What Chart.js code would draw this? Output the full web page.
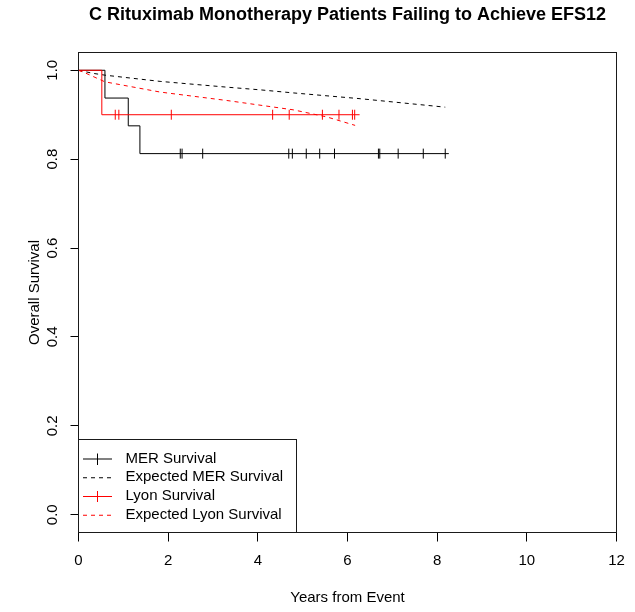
<!DOCTYPE html>
<html>
<head>
<meta charset="utf-8">
<script src="https://cdn.jsdelivr.net/npm/chart.js@4/dist/chart.umd.min.js"></script>
<style>
html, body { margin: 0; padding: 0; background: #ffffff; }
#wrap { width: 635px; height: 612px; }
</style>
</head>
<body>
<div id="wrap"><canvas id="c" width="635" height="612"></canvas></div>
<script>
// ---------------- data ----------------
const titleText = 'C Rituximab Monotherapy Patients Failing to Achieve EFS12';
const xTitle = 'Years from Event';
const yTitle = 'Overall Survival';
const xTicks = [0, 2, 4, 6, 8, 10, 12];
const yTicks = [0, 0.2, 0.4, 0.6, 0.8, 1.0];
const seriesNames = ['MER Survival', 'Expected MER Survival', 'Lyon Survival', 'Expected Lyon Survival'];

// Kaplan-Meier MER (steps)
const merTimes = [0, 0.59, 1.11, 1.37, 8.26];
const merSurv  = [1, 0.9375, 0.875, 0.8125, 0.8125];
const merCensorTimes = [2.27, 2.31, 2.77, 4.69, 4.77, 5.08, 5.38, 5.71, 6.69, 6.72, 7.13, 7.69, 8.18];

// Kaplan-Meier Lyon (steps)
const lyonTimes = [0, 0.52, 6.27];
const lyonSurv  = [1, 0.9, 0.9];
const lyonCensorTimes = [0.82, 0.90, 2.07, 4.33, 4.70, 5.44, 5.81, 6.11, 6.16];

// Expected survival curves
const expMerTimes = [0, 0.33, 0.59, 1.82, 3.31, 4.05, 4.80, 6.29, 8.18];
const expMerSurv  = [1, 0.993, 0.989, 0.975, 0.962, 0.956, 0.949, 0.936, 0.917];
const expLyonTimes = [0, 0.15, 0.59, 1.82, 3.31, 4.79, 5.54, 6.17];
const expLyonSurv  = [1, 0.994, 0.974, 0.951, 0.932, 0.911, 0.895, 0.876];

// ---------------- helpers ----------------
const FONT = '"Liberation Sans", Arial, Helvetica, sans-serif';
const BLACK = '#000000';
const RED = '#ff0000';

function pts(times, vals) { return times.map((t, i) => ({ x: t, y: vals[i] })); }
function survAt(times, vals, t) {
  let v = vals[0];
  for (let i = 0; i < times.length; i++) { if (times[i] <= t) v = vals[i]; }
  return v;
}
function censorPts(ct, times, vals) { return ct.map(t => ({ x: t, y: survAt(times, vals, t) })); }

function legendMark(color, dashed, cross) {
  const c = document.createElement('canvas');
  c.width = 35; c.height = 12;
  const g = c.getContext('2d');
  g.strokeStyle = color; g.lineWidth = 1;
  if (dashed) g.setLineDash([4, 4]);
  g.beginPath(); g.moveTo(0, 6.5); g.lineTo(29, 6.5); g.stroke();
  if (cross) {
    g.setLineDash([]);
    g.beginPath(); g.moveTo(14.5, 1); g.lineTo(14.5, 12); g.stroke();
  }
  return c;
}
const legendMarks = [
  legendMark(BLACK, false, true),
  legendMark(BLACK, true, false),
  legendMark(RED, false, true),
  legendMark(RED, true, false)
];

const lineBase = { type: 'line', fill: false, pointRadius: 0, pointHoverRadius: 0, borderWidth: 1, tension: 0 };
const censorBase = { type: 'line', showLine: false, pointStyle: 'line', rotation: 90, pointRadius: 5, pointHoverRadius: 5, borderWidth: 1 };

// lower "order" is drawn on top (red series over black, as in the reference)
const datasets = [
  Object.assign({}, lineBase, { label: seriesNames[0], data: pts(merTimes, merSurv), borderColor: BLACK, stepped: 'before', order: 2 }),
  Object.assign({}, lineBase, { label: seriesNames[1], data: pts(expMerTimes, expMerSurv), borderColor: BLACK, borderDash: [4, 4], order: 2 }),
  Object.assign({}, lineBase, { label: seriesNames[2], data: pts(lyonTimes, lyonSurv), borderColor: RED, stepped: 'before', order: 1 }),
  Object.assign({}, lineBase, { label: seriesNames[3], data: pts(expLyonTimes, expLyonSurv), borderColor: RED, borderDash: [4, 4], order: 1 }),
  Object.assign({}, censorBase, { label: 'MER censored', data: censorPts(merCensorTimes, merTimes, merSurv), borderColor: BLACK, backgroundColor: BLACK, order: 2 }),
  Object.assign({}, censorBase, { label: 'Lyon censored', data: censorPts(lyonCensorTimes, lyonTimes, lyonSurv), borderColor: RED, backgroundColor: RED, order: 1 })
];

const framePlugin = {
  id: 'frame',
  afterLayout(chart) {
    const lg = chart.legend, ca = chart.chartArea;
    lg.left = ca.left + 0.75;
    lg.bottom = ca.bottom - 6.5;
  },
  afterDraw(chart) {
    const ctx = chart.ctx, ca = chart.chartArea, lg = chart.legend;
    ctx.save();
    ctx.strokeStyle = '#1a1a1a';
    ctx.lineWidth = 1;
    ctx.strokeRect(ca.left, ca.top, ca.right - ca.left, ca.bottom - ca.top);
    const lo = lg.options.labels;
    ctx.font = '15px ' + FONT;
    const maxW = Math.max.apply(null, lg.legendItems.map(it => ctx.measureText(it.text).width));
    const textX = lg.left + lo.padding + lo.pointStyleWidth + 7.5;
    const top = lg.bottom - lg.columnSizes[0].height - 11.5;
    const right = Math.round(textX + maxW + 13) + 0.5;
    ctx.strokeRect(ca.left, top, right - ca.left, ca.bottom - top);
    ctx.restore();
  }
};

Chart.defaults.font.family = FONT;
Chart.defaults.color = BLACK;

new Chart(document.getElementById('c'), {
  type: 'line',
  data: { datasets: datasets },
  options: {
    responsive: false,
    animation: false,
    devicePixelRatio: 1,
    events: [],
    layout: { autoPadding: false, padding: { left: 0, right: 18.5, top: 0, bottom: 0 } },
    scales: {
      x: {
        type: 'linear', min: 0, max: 12,
        afterBuildTicks: s => { s.ticks = xTicks.map(v => ({ value: v })); },
        afterFit: s => { s.height = 79.5; },
        grid: { display: true, drawOnChartArea: false, drawTicks: true, tickLength: 9, color: BLACK, lineWidth: 1 },
        border: { display: false },
        ticks: { autoSkip: false, maxRotation: 0, minRotation: 0, padding: 10, font: { size: 15 }, color: BLACK,
                 callback: v => String(v) },
        title: { display: true, text: xTitle, font: { size: 15 }, color: BLACK, padding: { top: 0, bottom: 5.3 } }
      },
      y: {
        type: 'linear', min: -0.04, max: 1.04,
        afterBuildTicks: s => { s.ticks = yTicks.map(v => ({ value: v })); },
        afterFit: s => { s.width = 78.5; },
        grid: { display: true, drawOnChartArea: false, drawTicks: true, tickLength: 8, color: BLACK, lineWidth: 1 },
        border: { display: false },
        ticks: { autoSkip: false, minRotation: 90, maxRotation: 90, crossAlign: 'center', padding: 7.3,
                 font: { size: 15 }, color: BLACK, callback: v => Number(v).toFixed(1) },
        title: { display: true, text: yTitle, font: { size: 15 }, color: BLACK, padding: { top: 25.5, bottom: 0 } }
      }
    },
    plugins: {
      title: {
        display: true, text: titleText, fullSize: false,
        font: { size: 18, weight: 'bold' }, color: BLACK,
        padding: { top: 4.7, bottom: 26.2 }
      },
      legend: {
        display: true, position: 'chartArea', align: 'end',
        labels: {
          usePointStyle: true, pointStyleWidth: 35, padding: 3.75,
          font: { size: 15 }, color: BLACK,
          generateLabels: () => seriesNames.map((name, i) => ({
            text: name, pointStyle: legendMarks[i], fontColor: BLACK,
            hidden: false, datasetIndex: i, lineWidth: 0,
            strokeStyle: 'rgba(0,0,0,0)', fillStyle: 'rgba(0,0,0,0)'
          }))
        }
      },
      tooltip: { enabled: false }
    }
  },
  plugins: [framePlugin]
});
</script>
</body>
</html>
